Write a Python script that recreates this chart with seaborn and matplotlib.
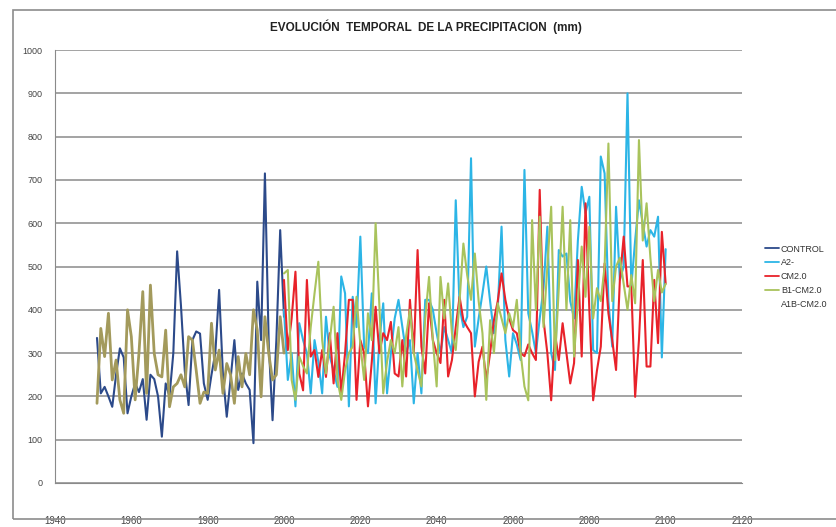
import numpy as np
import pandas as pd
import matplotlib.pyplot as plt
import seaborn as sns
from matplotlib.lines import Line2D
from matplotlib.patches import Rectangle

# years
years_hist = list(range(1951, 2001))
years_scen = list(range(2000, 2101))

# precipitation (mm)
control = [335, 207, 222, 200, 176, 250, 311, 290, 161, 200,
           230, 210, 240, 146, 250, 240, 200, 107, 230, 200,
           300, 535, 410, 260, 180, 330, 350, 345, 230, 192,
           250, 300, 446, 250, 153, 240, 330, 215, 253, 230,
           215, 92, 465, 330, 715, 322, 145, 330, 584, 384]

a1b = [184, 357, 292, 392, 238, 284, 192, 161, 400, 338,
       192, 300, 442, 207, 457, 299, 250, 245, 353, 176,
       222, 230, 250, 222, 338, 330, 260, 184, 210, 207,
       369, 261, 307, 207, 276, 250, 184, 292, 222, 299,
       250, 400, 353, 199, 384, 299, 238, 250, 384, 300]

a2 = [400, 238, 300, 177, 369, 330, 300, 207, 330, 280,
      207, 384, 292, 260, 222, 477, 438, 177, 430, 360,
      569, 315, 300, 438, 184, 330, 415, 207, 300, 380,
      423, 361, 300, 330, 184, 300, 207, 423, 423, 400,
      346, 300, 360, 330, 300, 653, 407, 360, 384, 750,
      315, 380, 438, 500, 420, 346, 400, 592, 330, 246,
      346, 320, 284, 723, 392, 350, 300, 380, 450, 592,
      300, 261, 538, 523, 530, 420, 380, 560, 684, 623,
      661, 307, 300, 754, 715, 420, 315, 638, 469, 500,
      900, 454, 560, 653, 600, 546, 584, 569, 615, 290,
      540]

cm20 = [469, 307, 380, 488, 253, 214, 469, 292, 307, 245,
        307, 245, 346, 230, 346, 207, 300, 423, 423, 192,
        330, 300, 177, 280, 407, 300, 346, 330, 372, 253,
        246, 330, 246, 423, 300, 538, 315, 253, 415, 330,
        300, 277, 423, 246, 284, 360, 430, 376, 360, 346,
        200, 280, 315, 238, 300, 376, 420, 484, 423, 380,
        353, 346, 300, 293, 320, 300, 284, 677, 376, 300,
        191, 346, 284, 369, 300, 230, 277, 515, 292, 646,
        400, 191, 260, 315, 507, 392, 330, 261, 469, 569,
        454, 454, 199, 330, 515, 269, 269, 469, 323, 580,
        460]

b1 = [484, 492, 238, 192, 292, 270, 253, 360, 438, 511,
      330, 253, 330, 407, 238, 192, 260, 300, 315, 430,
      320, 238, 392, 330, 600, 407, 207, 280, 330, 300,
      360, 223, 340, 400, 300, 260, 223, 380, 476, 330,
      223, 476, 380, 461, 346, 307, 420, 553, 480, 423,
      530, 420, 346, 192, 376, 300, 415, 380, 346, 392,
      360, 423, 300, 223, 191, 607, 400, 615, 360, 500,
      638, 284, 450, 638, 400, 607, 292, 420, 546, 430,
      592, 380, 450, 420, 500, 784, 420, 500, 520, 460,
      400, 480, 415, 792, 560, 646, 520, 420, 492, 440,
      460]

series = ["CONTROL", "A2-", "CM2.0", "B1-CM2.0", "A1B-CM2.0"]
colors = {"CONTROL": "#2c4a8a", "A2-": "#2cb5e6", "CM2.0": "#e8222a",
          "B1-CM2.0": "#a9c35c", "A1B-CM2.0": "#a39a5c"}

df = pd.concat([
    pd.DataFrame({"year": years_hist, "pp": control, "serie": "CONTROL"}),
    pd.DataFrame({"year": years_hist, "pp": a1b, "serie": "A1B-CM2.0"}),
    pd.DataFrame({"year": years_scen, "pp": a2, "serie": "A2-"}),
    pd.DataFrame({"year": years_scen, "pp": cm20, "serie": "CM2.0"}),
    pd.DataFrame({"year": years_scen, "pp": b1, "serie": "B1-CM2.0"}),
])

sns.set_style("white")
plt.rcParams['font.family'] = ['Liberation Sans', 'DejaVu Sans']

fig = plt.figure(figsize=(8.36, 5.27), dpi=100)
ax = fig.add_axes([55 / 836, 1 - 483 / 527, 687 / 836, 433 / 527])

# outer chart frame
fig.patches.append(Rectangle((13 / 836, 1 - 519 / 527), 830 / 836, 509 / 527,
                             transform=fig.transFigure, fill=False,
                             edgecolor="#8c8c8c", linewidth=1.2))

sns.lineplot(data=df, x="year", y="pp", hue="serie", hue_order=series,
             palette=colors, linewidth=1.5, ax=ax, legend=False,
             estimator=None, sort=False)
# historical khaki trace is drawn heavier in the original
for ln in ax.lines:
    if ln.get_color() == colors["A1B-CM2.0"]:
        ln.set_linewidth(2.0)

ax.set_xlim(1940, 2120)
ax.set_ylim(0, 1000)
ax.set_xticks(range(1940, 2121, 20))
ax.set_yticks(range(0, 1001, 100))
ax.set_xlabel("")
ax.set_ylabel("")
ax.yaxis.grid(True, color="#8a8a8a", linewidth=1.1)
ax.set_axisbelow(True)
for s in ["top", "right"]:
    ax.spines[s].set_visible(False)
ax.spines["left"].set_color("#8a8a8a")
ax.spines["bottom"].set_color("#8a8a8a")
ax.tick_params(axis="x", length=0, pad=24, labelsize=7, colors="#444444")
ax.tick_params(axis="y", length=0, pad=9, labelsize=6.5, colors="#444444")

fig.text(426 / 836, 1 - 27 / 527,
         "EVOLUCIÓN  TEMPORAL  DE LA PRECIPITACION  (mm)",
         ha="center", va="center", fontsize=8.5, fontweight="bold",
         color="#222222")

handles = [Line2D([], [], color=colors[s], linewidth=1.3) for s in series[:4]]
handles.append(Line2D([], [], color="none"))
leg = fig.legend(handles, series, loc="upper left",
                 bbox_to_anchor=(760 / 836, 1 - 240 / 527),
                 frameon=False, fontsize=6.5, handlelength=1.6,
                 handletextpad=0.2, labelspacing=0.55, borderpad=0)
for t in leg.get_texts():
    t.set_color("#333333")

fig.savefig("out.png", dpi=100)
